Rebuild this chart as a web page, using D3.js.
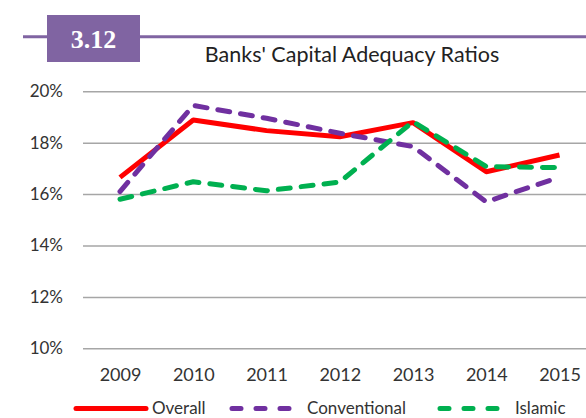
<!DOCTYPE html>
<html>
<head>
<meta charset="utf-8">
<script src="https://cdn.jsdelivr.net/npm/d3@7"></script>
<style>
  html, body { margin: 0; padding: 0; background: #fff; }
  svg { display: block; }
</style>
</head>
<body>
<svg id="chart" width="586" height="418"></svg>
<script>
// Capital adequacy ratios (%), by year
const years = ["2009", "2010", "2011", "2012", "2013", "2014", "2015"];
const overall = [16.65, 18.88, 18.47, 18.23, 18.78, 16.87, 17.52];
const conventional = [16.1, 19.45, 18.95, 18.37, 17.85, 15.7, 16.66];
const islamic = [15.8, 16.48, 16.13, 16.47, 18.82, 17.07, 17.03];
const yTicks = [10, 12, 14, 16, 18, 20];
const seriesNames = ["Overall", "Conventional", "Islamic"];

const svg = d3.select("#chart");
const W = 586;
const font = "Lato, 'Open Sans', sans-serif";

// Header: purple rule with the figure number box
const purple = "#8064a2";
svg.append("line")
  .attr("x1", 23).attr("x2", W).attr("y1", 36.7).attr("y2", 36.7)
  .attr("stroke", purple).attr("stroke-width", 3);
svg.append("rect")
  .attr("x", 47).attr("y", 15).attr("width", 93).attr("height", 47)
  .attr("fill", purple);
svg.append("text")
  .attr("x", 93.5).attr("y", 47.5)
  .attr("text-anchor", "middle")
  .attr("fill", "#fff")
  .attr("font-family", "'Liberation Serif', 'DejaVu Serif', serif")
  .attr("font-weight", "bold")
  .attr("font-size", 26)
  .text("3.12");
svg.append("text")
  .attr("x", 352).attr("y", 62)
  .attr("text-anchor", "middle")
  .attr("fill", "#222")
  .attr("font-family", font)
  .attr("font-size", 21.5)
  .text("Banks' Capital Adequacy Ratios");

// Scales
const x = d3.scalePoint().domain(years).range([120, 559.5]);
const y = d3.scaleLinear().domain([10, 20]).range([348.3, 91.3]);

// Horizontal grid lines with the percentage labels
const yAxis = svg.append("g")
  .attr("transform", "translate(83,0)")
  .call(d3.axisLeft(y).tickValues(yTicks).tickSize(-(W - 83)).tickPadding(20)
    .tickFormat(d => d + "%"));
yAxis.select(".domain").remove();
yAxis.selectAll(".tick line").attr("stroke", "#a6a6a6").attr("stroke-width", 1.5);
yAxis.selectAll(".tick text")
  .attr("fill", "#333").attr("font-family", font).attr("font-size", 17);

// Year labels
const xAxis = svg.append("g")
  .attr("transform", "translate(0,348.3)")
  .call(d3.axisBottom(x).tickSize(0).tickPadding(20));
xAxis.select(".domain").remove();
xAxis.selectAll(".tick text")
  .attr("fill", "#333").attr("font-family", font).attr("font-size", 18);

// Series lines
const series = [
  { name: seriesNames[0], values: overall, color: "#ff0000", dash: null },
  { name: seriesNames[1], values: conventional, color: "#7030a0", dash: "12,11" },
  { name: seriesNames[2], values: islamic, color: "#00b050", dash: "12,11" }
];
const line = d3.line().x((d, i) => x(years[i])).y(d => y(d));

series.forEach(s => {
  svg.append("path")
    .datum(s.values)
    .attr("d", line)
    .attr("fill", "none")
    .attr("stroke", s.color)
    .attr("stroke-width", 5)
    .attr("stroke-linejoin", "round")
    .attr("stroke-linecap", s.dash ? "round" : "butt")
    .attr("stroke-dasharray", s.dash);
});

// Legend along the bottom edge
const legendItems = [
  { s: series[0], x1: 76, x2: 146, tx: 152 },
  { s: series[1], x1: 232, x2: 295, tx: 307 },
  { s: series[2], x1: 440, x2: 503, tx: 515 }
];
legendItems.forEach(it => {
  svg.append("line")
    .attr("x1", it.x1).attr("x2", it.x2).attr("y1", 408.5).attr("y2", 408.5)
    .attr("stroke", it.s.color).attr("stroke-width", 5)
    .attr("stroke-linecap", "round")
    .attr("stroke-dasharray", it.s.dash ? "9,15" : null);
  svg.append("text")
    .attr("x", it.tx).attr("y", 413.5)
    .attr("fill", "#333").attr("font-family", font).attr("font-size", 17)
    .text(it.s.name);
});
</script>
</body>
</html>
